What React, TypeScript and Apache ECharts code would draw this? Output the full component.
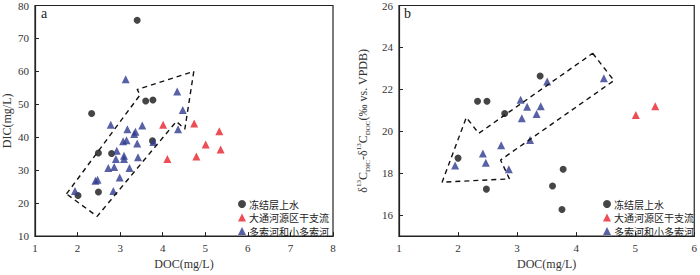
import React, { useEffect, useRef } from "react";
import * as echarts from "echarts";

// ---- Panel a: DOC (mg/L) vs DIC (mg/L)
const blackA = [[3.4, 75.5], [2.33, 47.2], [3.6, 51.0], [3.77, 51.3], [2.49, 35.2], [2.8, 35.1], [3.76, 38.9], [2.01, 22.3], [2.49, 23.4]];
const redA = [[4.01, 43.8], [4.74, 44.2], [5.33, 41.8], [4.11, 33.4], [4.79, 34.2], [5.01, 37.8], [5.36, 36.3]];
const blueA = [
  [3.13, 57.6], [4.34, 53.9], [4.47, 48.3], [2.78, 43.8], [3.17, 42.4], [3.52, 43.6], [3.36, 41.7], [3.33, 41.0],
  [4.36, 42.4], [3.07, 38.8], [3.15, 39.1], [3.40, 38.1], [3.78, 38.6], [2.92, 35.9], [3.09, 34.4], [3.09, 33.4],
  [2.90, 33.4], [3.42, 33.9], [2.72, 30.7], [2.86, 31.0], [3.22, 30.7], [2.99, 27.8], [2.84, 23.7], [2.42, 26.8],
  [2.47, 27.1], [1.94, 23.7],
];
const polyA = [[1.74, 22.8], [3.47, 52.9], [3.40, 54.5], [4.73, 60.0], [4.52, 42.5], [4.32, 44.8], [2.46, 16.0], [1.74, 22.8]];

// ---- Panel b: DOC (mg/L) vs δ13C_DIC - δ13C_DOC
const blackB = [[2.33, 21.43], [2.49, 21.43], [2.79, 20.85], [3.39, 22.64], [2.0, 18.72], [2.48, 17.24], [3.6, 17.39], [3.78, 18.19], [3.76, 16.27]];
const redB = [[5.01, 20.78], [5.34, 21.2]];
const blueB = [
  [3.06, 21.5], [3.17, 21.17], [3.08, 20.62], [3.33, 20.82], [3.40, 21.2], [3.51, 22.38], [4.47, 22.53],
  [1.95, 18.37], [2.42, 18.94], [2.47, 18.5], [2.73, 19.33], [2.86, 18.19], [3.22, 19.59],
];
const polyB = [[4.28, 23.72], [4.64, 22.42], [2.72, 18.63], [2.87, 17.73], [1.73, 17.57], [2.14, 20.66], [2.35, 19.9], [4.28, 23.72]];

const legendNames = ["冻结层上水", "大通河源区干支流", "多索河和小多索河"];
const yTicksB = [16, 18, 20, 22, 24, 26];

const SERIF = "Liberation Serif";
const CJK = "Noto Sans CJK SC";
const BLACK = "#161616";
const RED = "#e8212b";
const BLUE = "#2e3a8e";

export default function App() {
  const ref = useRef<HTMLDivElement>(null);
  useEffect(() => {
    document.body.style.margin = "0";
    const chart = echarts.init(ref.current!, null, { renderer: "svg" });
    const axisCommon = {
      axisLine: { show: true, lineStyle: { color: "#222", width: 1.2 } },
      axisTick: { show: true, inside: true, length: 4, lineStyle: { color: "#222", width: 1 } },
      axisLabel: { color: "#333", fontFamily: SERIF, fontSize: 11, margin: 6 },
      splitLine: { show: false },
      nameTextStyle: { color: "#333", fontFamily: SERIF, fontSize: 12 },
    };
    const scatter = (name: string, data: number[][], idx: number, symbol: string, color: string, size: number) => ({
      type: "scatter",
      name,
      data,
      xAxisIndex: idx,
      yAxisIndex: idx,
      symbol,
      symbolSize: size,
      itemStyle: { color },
    });
    const poly = (name: string, data: number[][], idx: number) => ({
      type: "line",
      name,
      data,
      xAxisIndex: idx,
      yAxisIndex: idx,
      symbol: "none",
      silent: true,
      lineStyle: { color: "#111", width: 1.4, type: [5, 4] },
    });
    const legendCommon = {
      orient: "vertical",
      itemWidth: 8,
      itemHeight: 8,
      itemGap: 1.5,
      data: legendNames,
      textStyle: { fontFamily: CJK, fontSize: 10, lineHeight: 12, height: 12, color: "#222", padding: [0, 0, 0, -2] },
    };
    chart.setOption({
      animation: false,
      grid: [
        { left: 34, top: 2, width: 299, height: 240, show: true, borderColor: "#222", borderWidth: 1.2 },
        { left: 399, top: 2, width: 299, height: 240, show: true, borderColor: "#222", borderWidth: 1.2 },
      ],
      xAxis: [
        { ...axisCommon, type: "value", gridIndex: 0, min: 1, max: 8, interval: 1, name: "DOC(mg/L)", nameLocation: "middle", nameGap: 20 },
        { ...axisCommon, type: "value", gridIndex: 1, min: 1, max: 6, interval: 1, name: "DOC(mg/L)", nameLocation: "middle", nameGap: 20 },
      ],
      yAxis: [
        { ...axisCommon, type: "value", gridIndex: 0, min: 10, max: 80, interval: 10, name: "DIC(mg/L)", nameLocation: "middle", nameGap: 22 },
        {
          ...axisCommon,
          type: "value",
          gridIndex: 1,
          min: 15,
          max: 26,
          axisTick: { ...axisCommon.axisTick, customValues: yTicksB },
          axisLabel: { ...axisCommon.axisLabel, customValues: yTicksB },
          name: "{d|δ}{sup|13}{d|C}{sub|DIC}{d|-δ}{sup|13}{d|C}{sub|DOC}{d|(‰ vs. VPDB)}",
          nameLocation: "middle",
          nameGap: 28,
          nameTextStyle: {
            color: "#333",
            fontFamily: SERIF,
            fontSize: 12,
            rich: {
              d: { fontFamily: SERIF, fontSize: 12, color: "#333", lineHeight: 16 },
              sup: { fontFamily: SERIF, fontSize: 7, color: "#333", verticalAlign: "top", lineHeight: 8 },
              sub: { fontFamily: SERIF, fontSize: 7, color: "#333", verticalAlign: "bottom", lineHeight: 8 },
            },
          },
        },
      ],
      legend: [
        { ...legendCommon, left: 233, top: 193 },
        { ...legendCommon, left: 598, top: 193 },
      ],
      graphic: [
        { type: "text", left: 41, top: 6, style: { text: "a", fontFamily: SERIF, fontSize: 14, fill: "#222" } },
        { type: "text", left: 404, top: 6, style: { text: "b", fontFamily: SERIF, fontSize: 14, fill: "#222" } },
      ],
      series: [
        poly("polyA", polyA, 0),
        poly("polyB", polyB, 1),
        scatter(legendNames[0], blackA, 0, "circle", BLACK, 7),
        scatter(legendNames[1], redA, 0, "triangle", RED, 8),
        scatter(legendNames[2], blueA, 0, "triangle", BLUE, 8),
        scatter(legendNames[0], blackB, 1, "circle", BLACK, 7),
        scatter(legendNames[1], redB, 1, "triangle", RED, 8),
        scatter(legendNames[2], blueB, 1, "triangle", BLUE, 8),
      ],
    });
    return () => chart.dispose();
  }, []);
  return <div ref={ref} style={{ width: 700, height: 275, position: "absolute", left: 0, top: 0 }} />;
}
